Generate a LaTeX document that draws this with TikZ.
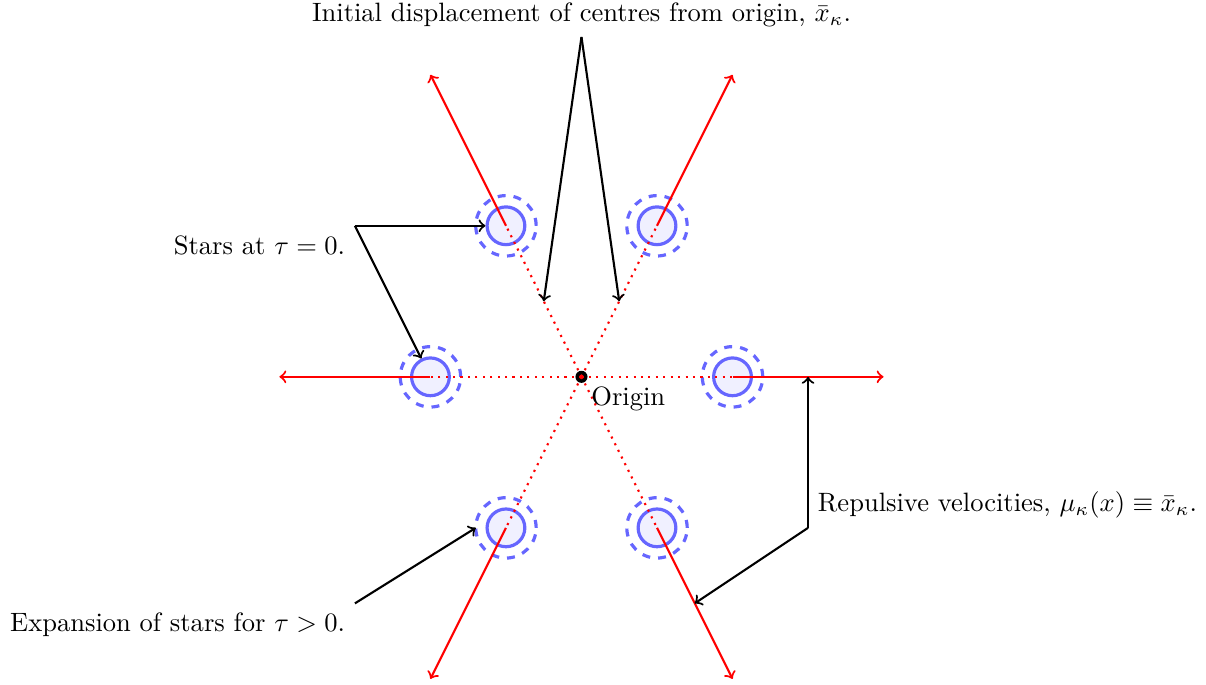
\documentclass[tikz,border=0pt]{standalone}
\usepackage{amsmath,amssymb}
\usetikzlibrary{arrows, positioning, calc}

\begin{document}
\begin{tikzpicture}[line width=0.8pt]
  \tikzstyle{star}=[circle, draw=blue!60, fill=blue!6, line width=1.2pt, minimum size=0.5cm, inner sep=0pt]
  \tikzstyle{halo}=[blue!60, line width=1.2pt, dashed]
  \tikzstyle{ray}=[red, line width=0.8pt]
  \tikzstyle{pointer}=[black, line width=0.8pt, ->]

  \useasboundingbox (-7.70,-4.08) rectangle (8.27,4.99);
  \coordinate (origin) at (0,0);

  % stars and their expansion
  \foreach \name/\x/\y in {r/2/0, tr/1/2, tl/-1/2, l/-2/0, bl/-1/-2, br/1/-2} {
    \draw[halo] (\x,\y) circle (0.4);
    \node[star] (\name) at (\x,\y) {};
    \coordinate (\name end) at ({2*\x},{2*\y});
  }

  % origin
  \fill[black] (origin) circle (0.08);

  % displacements and velocities
  \foreach \name in {r, tr, tl, l, bl, br} {
    \draw[ray, dotted] (origin) -- (\name.center);
    \draw[ray, ->] (\name.center) -- (\name end);
  }
  \node[below right] (orig) at (origin) {Origin};

  %% Labels
  % top
  \node[above] (init) at (0,4.5) {Initial displacement of centres from origin, $\bar{x}_\kappa$.};
  \coordinate (displ) at (-0.5,1);
  \coordinate (dispr) at (0.5,1);
  \draw[pointer] (init.south) -- (displ);
  \draw[pointer] (init.south) -- (dispr);

  % left
  \node[below left] (stars) at (-3,2) {Stars at $\tau = 0$.};
  \draw[pointer] (stars.north east) -- (tl);
  \draw[pointer] (stars.north east) -- (l);

  \node[below left] (expand) at (-3,-3) {Expansion of stars for $\tau > 0$.};
  \coordinate (halobl) at (-1.4,-2);
  \draw[pointer] (expand.north east) -- (halobl);

  % right
  \node[above right] (repul) at (3,-2) {Repulsive velocities, $\mu_\kappa(x) \equiv \bar{x}_\kappa$.};
  \coordinate (velr) at (3,0);
  \coordinate (velbr) at (1.5,-3);
  \draw[pointer] (repul.south west) -- (velr);
  \draw[pointer] (repul.south west) -- (velbr);
\end{tikzpicture}
\end{document}
